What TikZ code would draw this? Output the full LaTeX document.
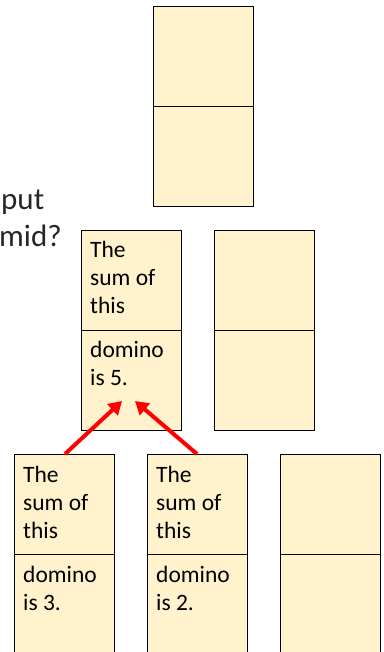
\documentclass[tikz,border=0pt]{standalone}
\usepackage{fontspec}
\setmainfont{Carlito}
\usetikzlibrary{arrows.meta}
\definecolor{dfill}{HTML}{FFF2CC}
\definecolor{darrow}{HTML}{FF0000}
\definecolor{qgray}{HTML}{262626}
\tikzset{
  half/.style={draw=black, fill=dfill, minimum width=100pt, minimum height=100pt,
    inner sep=0pt, line width=1.1pt, anchor=north west},
  dtext/.style={anchor=base west, inner sep=0pt, align=left,
    font=\fontsize{23.5pt}{28.4pt}\selectfont},
  qtext/.style={anchor=base west, inner sep=0pt, text=qgray, font=\fontsize{31pt}{36pt}\selectfont},
  redarrow/.style={draw=darrow, line width=4pt, -{Triangle[length=13pt,width=15pt]}}
}
\begin{document}
\begin{tikzpicture}[x=1pt,y=-1pt]
\useasboundingbox (0,0) rectangle (383,652);
% top domino
\node[half] (top-t) at (153,6) {};
\node[half] (top-b) at (153,106) {};
% middle row
\node[half] (midL-t) at (81,230) {};
\node[half] (midL-b) at (81,330) {};
\node[half] (midR-t) at (214,230) {};
\node[half] (midR-b) at (214,330) {};
% bottom row
\node[half] (botA-t) at (14,454) {};
\node[half] (botA-b) at (14,554) {};
\node[half] (botB-t) at (147,454) {};
\node[half] (botB-b) at (147,554) {};
\node[half] (botC-t) at (280,454) {};
\node[half] (botC-b) at (280,554) {};
% texts (base anchor = baseline of last line)
\node[dtext] (midL-tt) at (90,313.8) {The\\sum of\\this};
\node[dtext] (midL-bt) at (90,385.4) {domino\\is 5.};
\node[dtext] (botA-tt) at (23,538.8) {The\\sum of\\this};
\node[dtext] (botA-bt) at (23,610.4) {domino\\is 3.};
\node[dtext] (botB-tt) at (156,538.8) {The\\sum of\\this};
\node[dtext] (botB-bt) at (156,610.4) {domino\\is 2.};
% question text (cut at left edge)
\node[qtext] (q1) at (1,210) {put};
\node[qtext] (q2) at (-1,246) {mid?};
% arrows
\coordinate (a1s) at (65,454);
\coordinate (a1e) at (122,401);
\coordinate (a2s) at (197,454);
\coordinate (a2e) at (135,401);
\draw[redarrow] (a1s) -- (a1e);
\draw[redarrow] (a2s) -- (a2e);
\end{tikzpicture}
\end{document}
